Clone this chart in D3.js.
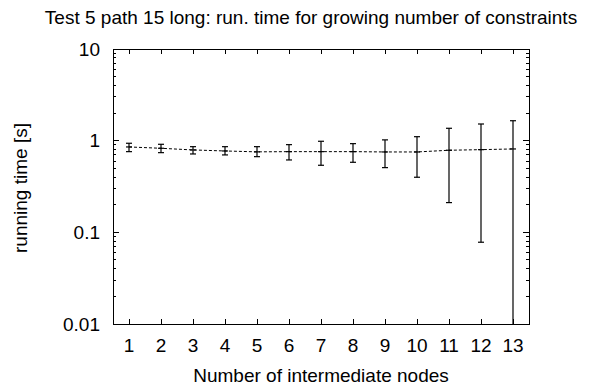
<!DOCTYPE html>
<html><head><meta charset="utf-8">
<script src="https://cdn.jsdelivr.net/npm/d3@7"></script>
<style>body{margin:0;background:#fff}svg{display:block}text{font-family:"Liberation Sans",Arial,Helvetica,sans-serif;fill:#000}</style>
</head><body>
<script>
const nodes = [1,2,3,4,5,6,7,8,9,10,11,12,13];
const meanTime = [0.854,0.826,0.792,0.772,0.755,0.759,0.759,0.759,0.753,0.753,0.786,0.798,0.812];
const lowTime  = [0.759,0.740,0.716,0.699,0.669,0.616,0.539,0.581,0.508,0.399,0.211,0.078,0.005];
const highTime = [0.937,0.913,0.860,0.860,0.860,0.905,0.985,0.928,1.020,1.105,1.365,1.520,1.650];
const yTickValues = [10,1,0.1,0.01];
const yTickLabels = ["10","1","0.1","0.01"];
const titleText = "Test 5 path 15 long: run. time for growing number of constraints";
const xLabel = "Number of intermediate nodes";
const yLabel = "running time [s]";

const W=611,H=390, L=113, R=529, T=49, B=324, FS=19, LFS=19;
const svg=d3.select("body").append("svg").attr("width",W).attr("height",H);
const x=d3.scaleLinear().domain([0.5,13.5]).range([L,R]);
const y=d3.scaleLog().domain([0.01,10]).range([B,T]);

svg.append("clipPath").attr("id","c").append("rect").attr("x",L).attr("y",T).attr("width",R-L).attr("height",B-T);

// minor ticks
const minors=[];
for(let e=-2;e<1;e++) for(let m=2;m<=9;m++) minors.push(m*Math.pow(10,e));
const g=svg.append("g").attr("stroke","#000").attr("stroke-width",1).attr("shape-rendering","crispEdges");
minors.forEach(v=>{
  g.append("line").attr("x1",L).attr("x2",L+3).attr("y1",y(v)).attr("y2",y(v));
  g.append("line").attr("x1",R).attr("x2",R-3).attr("y1",y(v)).attr("y2",y(v));
});
yTickValues.forEach(v=>{
  g.append("line").attr("x1",L).attr("x2",L+6).attr("y1",y(v)).attr("y2",y(v));
  g.append("line").attr("x1",R).attr("x2",R-6).attr("y1",y(v)).attr("y2",y(v));
});
nodes.forEach(v=>{
  g.append("line").attr("x1",x(v)).attr("x2",x(v)).attr("y1",B).attr("y2",B-5);
  g.append("line").attr("x1",x(v)).attr("x2",x(v)).attr("y1",T).attr("y2",T+5);
});
g.append("rect").attr("x",L).attr("y",T).attr("width",R-L).attr("height",B-T).attr("fill","none");

// tick labels
svg.selectAll(".yl").data(yTickValues).enter().append("text")
  .attr("x",100).attr("y",d=>y(d)).attr("dy","0.35em").attr("text-anchor","end")
  .attr("font-size",FS).text((d,i)=>yTickLabels[i]);
svg.selectAll(".xl").data(nodes).enter().append("text")
  .attr("x",d=>x(d)).attr("y",345).attr("dy","0.35em").attr("text-anchor","middle")
  .attr("font-size",FS).text(d=>d);

// data
const pg=svg.append("g").attr("clip-path","url(#c)");
const line=d3.line().x((d,i)=>x(nodes[i])).y(d=>y(d));
pg.append("path").attr("d",line(meanTime)).attr("fill","none").attr("stroke","#000").attr("stroke-width",1).attr("stroke-dasharray","3,2");
nodes.forEach((n,i)=>{
  const cx=x(n);
  pg.append("line").attr("x1",cx).attr("x2",cx).attr("y1",y(lowTime[i])).attr("y2",y(highTime[i])).attr("stroke","#000").attr("stroke-width",1.2);
  [lowTime[i],highTime[i]].forEach(v=>pg.append("line").attr("x1",cx-3).attr("x2",cx+3).attr("y1",y(v)).attr("y2",y(v)).attr("stroke","#000").attr("stroke-width",1.2));
  pg.append("line").attr("x1",cx-3).attr("x2",cx+3).attr("y1",y(meanTime[i])).attr("y2",y(meanTime[i])).attr("stroke","#000").attr("stroke-width",1.2);
});

// titles
svg.append("text").attr("x",311).attr("y",17).attr("dy","0.35em").attr("text-anchor","middle").attr("font-size",FS).text(titleText);
svg.append("text").attr("x",321).attr("y",375).attr("dy","0.35em").attr("text-anchor","middle").attr("font-size",LFS).text(xLabel);
svg.append("text").attr("transform","translate(20,188) rotate(-90)").attr("dy","0.35em").attr("text-anchor","middle").attr("font-size",LFS).text(yLabel);
</script>
</body></html>
